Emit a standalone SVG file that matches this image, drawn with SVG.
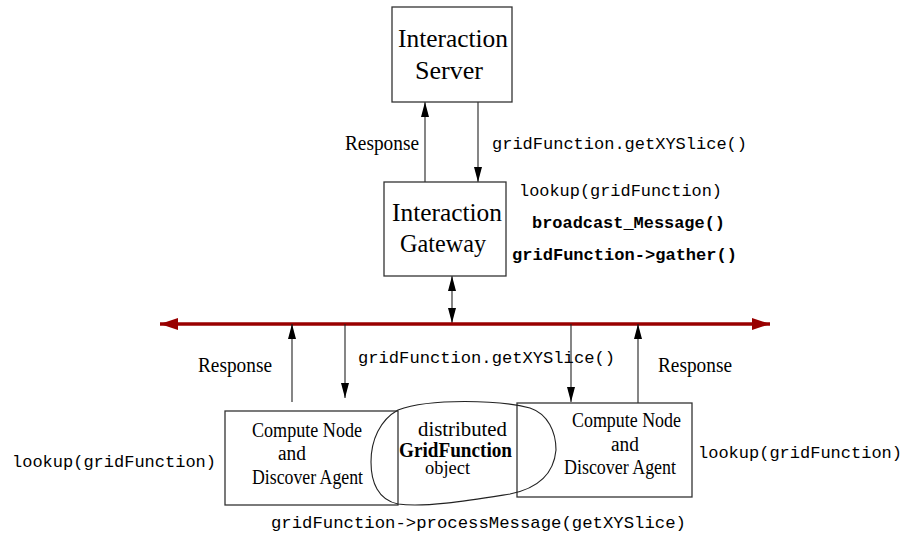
<svg xmlns="http://www.w3.org/2000/svg" width="903" height="535" viewBox="0 0 903 535">
<defs>
<marker id="ah" markerUnits="userSpaceOnUse" markerWidth="16" markerHeight="8" refX="15" refY="4" orient="auto-start-reverse">
<path d="M0,0 L15,4 L0,8 Z" fill="#000"/>
</marker>
<marker id="bh" markerUnits="userSpaceOnUse" markerWidth="19" markerHeight="12" refX="18" refY="6" orient="auto-start-reverse">
<path d="M0,0 L18,6 L0,12 Z" fill="#990000"/>
</marker>
</defs>
<style>
.box{fill:#fff;stroke:#333;stroke-width:1.3}
.ln{stroke:#222;stroke-width:1.1;fill:none}
.serif{font-family:"Liberation Serif","Times New Roman",serif;fill:#000}
.big{font-size:25px}
.mid{font-size:20px}
.mono{font-family:"Liberation Mono","Courier New",monospace;font-size:17px;fill:#000}
.b{font-weight:bold}
</style>
<rect width="903" height="535" fill="#fff"/>

<g id="connectors">
<line class="ln" x1="425" y1="182" x2="425" y2="102" marker-end="url(#ah)"/>
<line class="ln" x1="478" y1="102" x2="478" y2="182" marker-end="url(#ah)"/>
<line class="ln" x1="452" y1="276" x2="452" y2="323" marker-start="url(#ah)" marker-end="url(#ah)"/>
<line x1="160" y1="324" x2="770" y2="324" stroke="#990000" stroke-width="3.5" marker-start="url(#bh)" marker-end="url(#bh)"/>
<line class="ln" x1="292" y1="402" x2="292" y2="324" marker-end="url(#ah)"/>
<line class="ln" x1="345" y1="324" x2="345" y2="398" marker-end="url(#ah)"/>
<line class="ln" x1="571" y1="324" x2="571" y2="402" marker-end="url(#ah)"/>
<line class="ln" x1="638" y1="403" x2="638" y2="324" marker-end="url(#ah)"/>
</g>

<g id="server">
<rect class="box" x="392" y="7" width="120" height="95"/>
<text class="serif big" x="398" y="47" textLength="110" lengthAdjust="spacingAndGlyphs">Interaction</text>
<text class="serif big" x="415" y="79" textLength="68" lengthAdjust="spacingAndGlyphs">Server</text>
</g>

<g id="gateway">
<rect class="box" x="384" y="182" width="122" height="94"/>
<text class="serif big" x="392" y="221" textLength="110" lengthAdjust="spacingAndGlyphs">Interaction</text>
<text class="serif big" x="400" y="252" textLength="86" lengthAdjust="spacingAndGlyphs">Gateway</text>
</g>

<g id="compute-left">
<rect class="box" x="225" y="411" width="173" height="94"/>
<text class="serif mid" x="252" y="437" textLength="110" lengthAdjust="spacingAndGlyphs">Compute Node</text>
<text class="serif mid" x="278" y="460" textLength="28" lengthAdjust="spacingAndGlyphs">and</text>
<text class="serif mid" x="252" y="484" textLength="111" lengthAdjust="spacingAndGlyphs">Discover Agent</text>
</g>

<g id="compute-right">
<rect class="box" x="517" y="403" width="175" height="94"/>
<text class="serif mid" x="572" y="427" textLength="109" lengthAdjust="spacingAndGlyphs">Compute Node</text>
<text class="serif mid" x="611" y="451" textLength="28" lengthAdjust="spacingAndGlyphs">and</text>
<text class="serif mid" x="564" y="474" textLength="112" lengthAdjust="spacingAndGlyphs">Discover Agent</text>
</g>

<g id="gridfunction">
<path class="ln" d="M398,410 C430,398 500,400 530,408 C548,414 556,432 556,450 C554,472 540,488 510,494 C472,500 425,508 398,504 C378,500 371,482 371,462 C371,440 380,420 398,410 Z"/>
<text class="serif mid" x="418" y="436" textLength="89" lengthAdjust="spacingAndGlyphs">distributed</text>
<text class="serif mid b" x="399" y="457" textLength="113" lengthAdjust="spacingAndGlyphs">GridFunction</text>
<text class="serif" font-size="18" x="425" y="474" textLength="45" lengthAdjust="spacingAndGlyphs">object</text>
</g>

<g id="labels">
<text class="serif mid" x="345" y="150" textLength="74" lengthAdjust="spacingAndGlyphs">Response</text>
<text class="mono" x="492" y="149" textLength="255" lengthAdjust="spacingAndGlyphs">gridFunction.getXYSlice()</text>
<text class="mono" x="519" y="196" textLength="203" lengthAdjust="spacingAndGlyphs">lookup(gridFunction)</text>
<text class="mono b" x="532" y="228" textLength="193" lengthAdjust="spacingAndGlyphs">broadcast_Message()</text>
<text class="mono b" x="512" y="260" textLength="225" lengthAdjust="spacingAndGlyphs">gridFunction-&gt;gather()</text>
<text class="serif mid" x="198" y="372" textLength="74" lengthAdjust="spacingAndGlyphs">Response</text>
<text class="mono" x="358" y="363" textLength="257" lengthAdjust="spacingAndGlyphs">gridFunction.getXYSlice()</text>
<text class="serif mid" x="658" y="372" textLength="74" lengthAdjust="spacingAndGlyphs">Response</text>
<text class="mono" x="12" y="467" textLength="204" lengthAdjust="spacingAndGlyphs">lookup(gridFunction)</text>
<text class="mono" x="698" y="458" textLength="204" lengthAdjust="spacingAndGlyphs">lookup(gridFunction)</text>
<text class="mono" x="271" y="528" textLength="415" lengthAdjust="spacingAndGlyphs">gridFunction-&gt;processMessage(getXYSlice)</text>
</g>
</svg>
